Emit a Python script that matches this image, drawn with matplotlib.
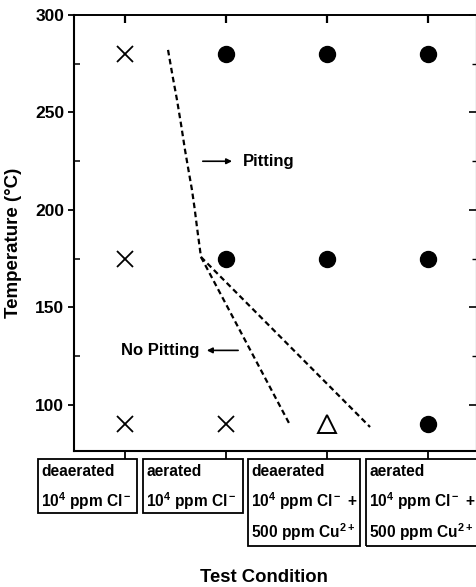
import matplotlib.pyplot as plt
from matplotlib.patches import Rectangle
import matplotlib.transforms as mtransforms

plt.rcParams['font.family'] = ['Liberation Sans', 'DejaVu Sans']
plt.rcParams['mathtext.fontset'] = 'custom'
plt.rcParams['mathtext.rm'] = 'Liberation Sans:bold'
plt.rcParams['mathtext.bf'] = 'Liberation Sans:bold'
plt.rcParams['mathtext.default'] = 'rm'

# ---------------------------------------------------------------
# data
# ---------------------------------------------------------------
conditions = [1, 2, 3, 4]
cond_labels = [
    ["deaerated", r"10$^4$ ppm Cl$^-$"],
    ["aerated", r"10$^4$ ppm Cl$^-$"],
    ["deaerated", r"10$^4$ ppm Cl$^-$ +", r"500 ppm Cu$^{2+}$"],
    ["aerated", r"10$^4$ ppm Cl$^-$ +", r"500 ppm Cu$^{2+}$"],
]

# no pitting (x), pitting (filled circle), borderline (open triangle)
nopit_cond = [1, 1, 1, 2]
nopit_temp = [280, 175, 90, 90]
pit_cond = [2, 2, 3, 3, 4, 4, 4]
pit_temp = [280, 175, 280, 175, 280, 175, 90]
mixed_cond = [3]
mixed_temp = [90]

# hand-drawn boundaries
upper_cond = [1.426, 1.470, 1.515, 1.556, 1.594, 1.630, 1.663, 1.690, 1.713, 1.735, 1.752]
upper_temp = [282.1, 269.0, 256.4, 243.5, 230.8, 220.0, 210.3, 200.5, 191.0, 182.5, 175.9]
left_cond = [1.752, 2.634]
left_temp = [175.9, 89.7]
right_cond = [1.752, 3.426]
right_temp = [175.9, 88.7]

# ---------------------------------------------------------------
# figure
# ---------------------------------------------------------------
W, H = 477, 587
fig = plt.figure(figsize=(W / 100, H / 100), dpi=100)
ax = fig.add_axes([74 / W, 1 - 451 / H, (476 - 74) / W, 436 / H])

ax.plot(nopit_cond, nopit_temp, ls='none', marker='x', ms=12, mew=1.3, color='black')
ax.plot(pit_cond, pit_temp, ls='none', marker='o', ms=11.5, color='black')
ax.plot(mixed_cond, mixed_temp, ls='none', marker='^', ms=12.5, mew=1.4,
        mfc='white', mec='black')

dash = (0, (2.5, 1.6))
for xs, ts in [(upper_cond, upper_temp), (left_cond, left_temp), (right_cond, right_temp)]:
    ax.plot(xs, ts, color='black', lw=1.6, ls=dash)

arr = dict(arrowstyle='-|>', lw=1.2, color='black', mutation_scale=8, shrinkA=0, shrinkB=0)
ax.annotate('', xy=(2.06, 225), xytext=(1.77, 225), arrowprops=arr)
ax.text(2.165, 225, 'Pitting', fontsize=12, fontweight='bold', va='center', ha='left')
ax.annotate('', xy=(1.81, 128), xytext=(2.12, 128), arrowprops=arr)
ax.text(1.74, 128, 'No Pitting', fontsize=12, fontweight='bold', va='center', ha='right')

ax.set_xlim(0.495, 4.475)
ax.set_ylim(76.4, 300)

# left: major out with labels, minor in
ax.set_yticks([100, 150, 200, 250, 300])
ax.set_yticks([125, 175, 225, 275], minor=True)
ax.tick_params(axis='y', which='major', direction='out', length=4, width=1.3,
               labelsize=12.5, pad=3)
ax.tick_params(axis='y', which='minor', direction='in', length=4, width=1.1)
for lab in ax.get_yticklabels():
    lab.set_fontweight('bold')

# bottom: ticks out to the boxes, no labels
ax.set_xticks(conditions)
ax.set_xticklabels([])
ax.tick_params(axis='x', which='major', direction='out', length=6, width=1.3)

# top and right: inward ticks
top = ax.secondary_xaxis('top')
top.set_xticks(conditions)
top.set_xticklabels([])
top.tick_params(direction='in', length=6, width=1.6)
top.spines['top'].set_linewidth(1.4)

right = ax.secondary_yaxis('right')
right.set_yticks([100, 150, 200, 250, 300])
right.set_yticks([125, 175, 225, 275], minor=True)
right.set_yticklabels([])
right.tick_params(which='major', direction='in', length=5, width=1.2)
right.tick_params(which='minor', direction='in', length=3, width=1.0)
right.spines['right'].set_linewidth(0.8)

for s in ['left', 'bottom']:
    ax.spines[s].set_linewidth(1.5)
ax.spines['top'].set_visible(False)
ax.spines['right'].set_visible(False)

ax.set_ylabel('Temperature (°C)', fontsize=13.5, fontweight='bold')
ax.yaxis.set_label_coords(-0.129, 0.477)
fig.text(264 / W, 1 - 577 / H, 'Test Condition', fontsize=13.3, fontweight='bold',
         ha='center', va='center')

# condition boxes under the axis
trans = mtransforms.blended_transform_factory(ax.transData, ax.transAxes)
box_edges = [(0.139, 1.119), (1.178, 2.168), (2.218, 3.327), (3.386, 4.8)]
line_y = [-0.048, -0.115, -0.186]
box_top = -0.018
box_bottom = {2: -0.142, 3: -0.218}
for (x0, x1), lines in zip(box_edges, cond_labels):
    y0 = box_bottom[len(lines)]
    ax.add_patch(Rectangle((x0, y0), x1 - x0, box_top - y0, transform=trans,
                           fill=False, lw=1.3, ec='black', clip_on=False))
    for yy, txt in zip(line_y, lines):
        ax.text(x0 + 0.03, yy, txt, transform=trans, fontsize=11.2,
                fontweight='bold', ha='left', va='center')

fig.savefig('out.png', dpi=100)
